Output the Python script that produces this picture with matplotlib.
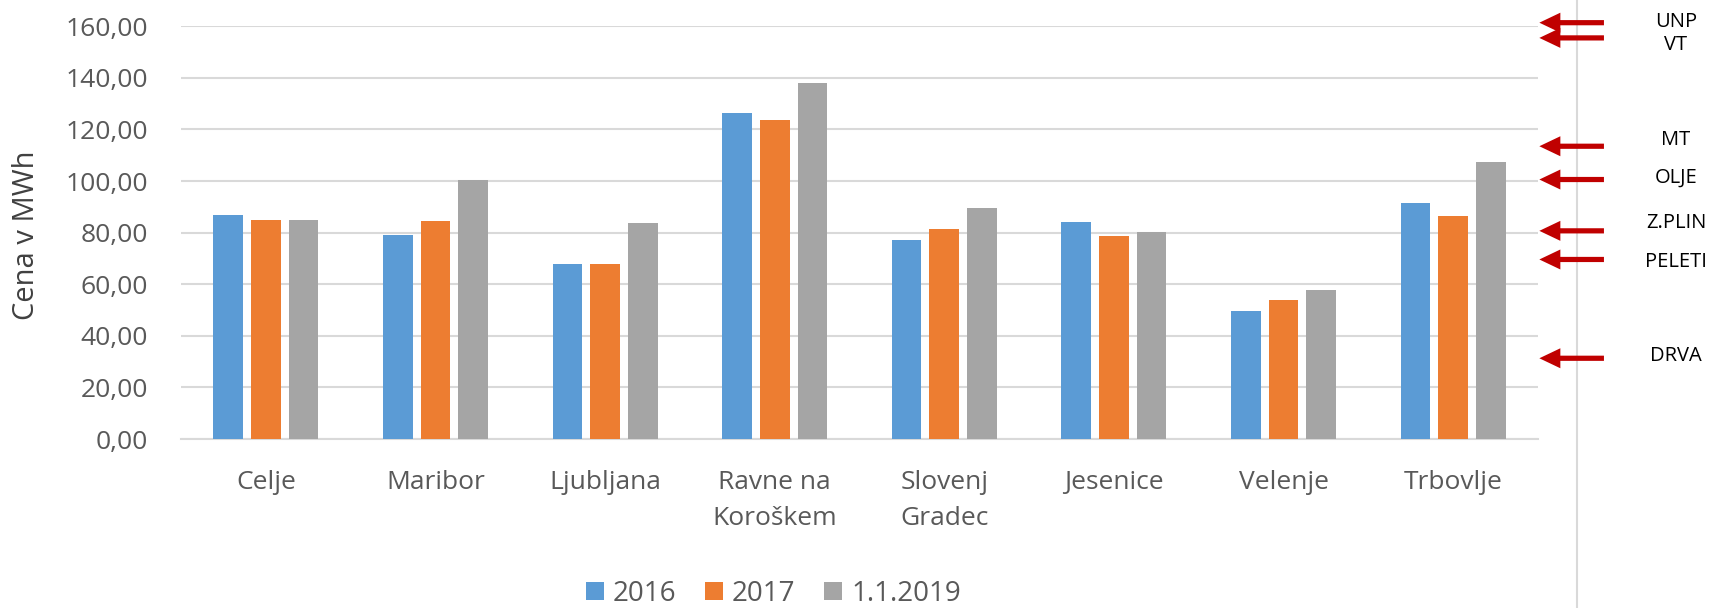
import matplotlib.pyplot as plt
import numpy as np
from matplotlib.lines import Line2D
from matplotlib.patches import Polygon
from matplotlib.transforms import IdentityTransform

plt.rcParams['font.family'] = ['Open Sans', 'DejaVu Sans']

# --- data ---
cities = ['Celje', 'Maribor', 'Ljubljana', 'Ravne na\nKoroškem', 'Slovenj\nGradec',
          'Jesenice', 'Velenje', 'Trbovlje']
series_names = ['2016', '2017', '1.1.2019']
price_2016 = [87.0, 79.0, 68.0, 126.5, 77.3, 84.3, 49.5, 91.5]
price_2017 = [85.0, 84.4, 67.8, 123.6, 81.3, 78.8, 53.7, 86.4]
price_2019 = [85.0, 100.3, 83.7, 137.9, 89.7, 80.1, 57.8, 107.4]

# reference prices of other fuels (arrows on the right)
fuel_names = ['UNP', 'VT', 'MT', 'OLJE', 'Z.PLIN', 'PELETI', 'DRVA']
fuel_prices = [161.4, 155.5, 113.5, 100.6, 80.7, 69.6, 31.3]

colors = ['#5B9BD5', '#ED7D31', '#A5A5A5']
grid_color = '#D9D9D9'
text_color = '#595959'
arrow_color = '#C00000'

fig = plt.figure(figsize=(17.17, 6.08), dpi=100)
ax = fig.add_axes([181 / 1717, 1 - 439 / 608, 1357 / 1717, (439 - 26.3) / 608])

x = np.arange(len(cities))
width = 0.175
step = 0.222
for i, (vals, name) in enumerate(zip([price_2016, price_2017, price_2019], series_names)):
    ax.bar(x + (i - 1) * step, vals, width, color=colors[i], label=name, zorder=3)

ax.set_xlim(-0.5, len(cities) - 0.5)
ax.set_ylim(0, 160)
ax.set_yticks(np.arange(0, 161, 20))
ax.set_yticklabels([f'{v:.2f}'.replace('.', ',') for v in np.arange(0, 161, 20)])
ax.set_xticks(x)
ax.set_xticklabels(cities, linespacing=1.6)

ax.grid(axis='y', color=grid_color, linewidth=1.5, zorder=0)
for s in ['top', 'right', 'left']:
    ax.spines[s].set_visible(False)
ax.spines['bottom'].set_color(grid_color)
ax.spines['bottom'].set_linewidth(1.5)
ax.tick_params(axis='both', length=0, labelsize=19, labelcolor=text_color)
ax.tick_params(axis='y', pad=24)
ax.tick_params(axis='x', pad=22)

ax.set_ylabel('Cena v MWh', fontsize=21, color='#404040')
ax.yaxis.set_label_coords(-0.103, 0.494)

# right-hand separator line (behind the arrows)
fig.add_artist(Line2D([1577 / 1717, 1577 / 1717], [0, 1], color=grid_color,
                      linewidth=1.5, zorder=1))

# arrows for the other fuel prices, drawn as one solid shape each (pixel units)
tip_x = ax.transAxes.transform((1.001, 0))[0]
tail_x = ax.transAxes.transform((1.0486, 0))[0]
head_len, head_half, shaft_half = 21, 10, 2.6
label_dy = [0.6, -7.3, 6, 1.3, 7.7, -2.7, 2.3]  # px nudge for readability
for name, val, dy in zip(fuel_names, fuel_prices, label_dy):
    yd = ax.transData.transform((0, val))[1]
    verts = [(tip_x, yd), (tip_x + head_len, yd + head_half),
             (tip_x + head_len, yd + shaft_half), (tail_x, yd + shaft_half),
             (tail_x, yd - shaft_half), (tip_x + head_len, yd - shaft_half),
             (tip_x + head_len, yd - head_half)]
    fig.add_artist(Polygon(verts, closed=True, transform=IdentityTransform(),
                           facecolor=arrow_color, edgecolor='none', zorder=5))
    ax.annotate(name, xy=(1.1017, val), xycoords=('axes fraction', 'data'),
                xytext=(0, dy * 0.72), textcoords='offset points',
                ha='center', va='center', fontsize=14.5, color='black',
                annotation_clip=False)

fig.legend(loc='center', bbox_to_anchor=(0.4505, 1 - 594 / 608), ncol=3,
           frameon=False, fontsize=20, handlelength=0.64, handleheight=0.64,
           handletextpad=0.32, columnspacing=1.04, labelcolor=text_color)

fig.savefig('out.png', dpi=100)
